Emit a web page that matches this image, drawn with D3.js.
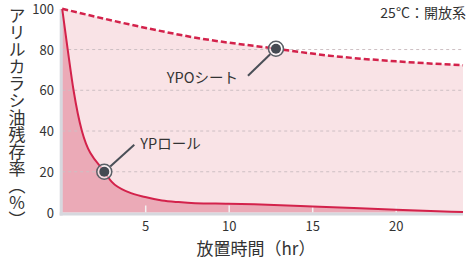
<!DOCTYPE html>
<html>
<head>
<meta charset="utf-8">
<style>
    body { margin: 0; background: #fff; }
    text { font-family: "Noto Sans CJK JP", "Noto Sans", sans-serif; fill: #333; }
    .grid line { stroke: #cdbfc3; stroke-dasharray: 3 3; }
</style>
</head>
<body>
<svg id="chart" width="470" height="266"></svg>
<script src="https://cdn.jsdelivr.net/npm/d3@7"></script>
<script>
// values (hours, remaining %)
const sheetHours = [0, 4, 8, 12.8, 16, 20, 24]
const sheetValues = [100, 92.4, 85.8, 80.4, 77, 74.2, 72.3]
const rollHours = [0, 0.33, 0.68, 1.18, 2.52, 2.97, 3.97, 4.97, 5.97, 6.97, 7.96, 9.94, 11.5, 15, 20, 24]
const rollValues = [100, 80, 60, 40, 20, 15, 10, 7.6, 5.9, 5.1, 4.6, 4.3, 4.0, 3.0, 1.3, 0.2]
const xTicks = [5, 10, 15, 20]
const yTicks = [0, 20, 40, 60, 80, 100]
const markers = [
    { name: "YPOシート", hour: 12.8, value: 80.4 },
    { name: "YPロール", hour: 2.52, value: 20 }
]

let svg = d3.select("#chart")
let x = d3.scaleLinear().domain([0, 24]).range([62.2, 463])
let y = d3.scaleLinear().domain([0, 100]).range([212.5, 8.8])

let sheet = sheetHours.map((h, i) => ({ h: h, v: sheetValues[i] }))
let roll = rollHours.map((h, i) => ({ h: h, v: rollValues[i] }))

// fills
let area = d3.area().x(d => x(d.h)).y0(y(0)).y1(d => y(d.v)).curve(d3.curveMonotoneX)
svg.append("path").datum(sheet).attr("d", area).attr("fill", "#f9e3e6")
svg.append("path").datum(roll).attr("d", area).attr("fill", "#ebaab7")

// grid
svg.append("g").attr("class", "grid")
    .selectAll("line").data(yTicks.filter(t => t > 0 && t < 100)).enter()
    .append("line")
    .attr("x1", x(0)).attr("x2", x(24))
    .attr("y1", d => y(d)).attr("y2", d => y(d))

// small x ticks inside plot
svg.append("g").selectAll("line").data(xTicks).enter()
    .append("line")
    .attr("x1", d => x(d)).attr("x2", d => x(d))
    .attr("y1", y(0) - 7).attr("y2", y(0))
    .attr("stroke", "#f4f1f2").attr("stroke-width", 1.5)

// axes bars
svg.append("rect").attr("x", x(0) - 2.5).attr("y", 9).attr("width", 3).attr("height", y(0) - 9 + 3).attr("fill", "#d6d8de")
svg.append("rect").attr("x", x(0) - 2.5).attr("y", y(0)).attr("width", x(24) - x(0) + 2.5).attr("height", 3).attr("fill", "#d6d8de")

// lines
let line = d3.line().x(d => x(d.h)).y(d => y(d.v)).curve(d3.curveMonotoneX)
svg.append("path").datum(sheet).attr("d", line)
    .attr("fill", "none").attr("stroke", "#d3224b").attr("stroke-width", 2.5).attr("stroke-dasharray", "6 3")
svg.append("path").datum(roll).attr("d", line)
    .attr("fill", "none").attr("stroke", "#d3224b").attr("stroke-width", 2)

// tick labels
svg.append("g").selectAll("text").data(yTicks).enter()
    .append("text")
    .attr("x", 54).attr("y", d => y(d) + 5)
    .attr("text-anchor", "end").attr("font-size", 13)
    .text(d => d)
svg.append("g").selectAll("text").data(xTicks).enter()
    .append("text")
    .attr("x", d => x(d)).attr("y", 231)
    .attr("text-anchor", "middle").attr("font-size", 13)
    .text(d => d)

// axis titles
svg.append("text")
    .attr("x", 256).attr("y", 255)
    .attr("text-anchor", "middle").attr("font-size", 17)
    .text("放置時間（hr）")
svg.append("text")
    .attr("x", 17).attr("y", 7)
    .attr("font-size", 17)
    .style("writing-mode", "vertical-rl")
    .text("アリルカラシ油残存率（％）")

svg.append("text")
    .attr("x", 466).attr("y", 18)
    .attr("text-anchor", "end").attr("font-size", 14)
    .text("25°C：開放系")

// markers with leader lines and labels
let labelOffsets = [
    { lx: -28, ly: 27, tx: -38, ty: 34, anchor: "end" },
    { lx: 30, ly: -27, tx: 36, ty: -23, anchor: "start" }
]
markers.forEach((m, i) => {
    let px = x(m.hour), py = y(m.value), o = labelOffsets[i]
    let dx = o.lx, dy = o.ly, len = Math.sqrt(dx * dx + dy * dy)
    svg.append("line")
        .attr("x1", px + dx / len * 8).attr("y1", py + dy / len * 8)
        .attr("x2", px + dx).attr("y2", py + dy)
        .attr("stroke", "#4a4f57").attr("stroke-width", 2)
    svg.append("circle").attr("cx", px).attr("cy", py).attr("r", 7.5)
        .attr("fill", "rgba(255,255,255,0.55)").attr("stroke", "#5a5f66").attr("stroke-width", 1.5)
    svg.append("circle").attr("cx", px).attr("cy", py).attr("r", 5).attr("fill", "#454a52")
    svg.append("text")
        .attr("x", px + o.tx).attr("y", py + o.ty)
        .attr("text-anchor", o.anchor).attr("font-size", 14.5)
        .text(m.name)
})
</script>
</body>
</html>
